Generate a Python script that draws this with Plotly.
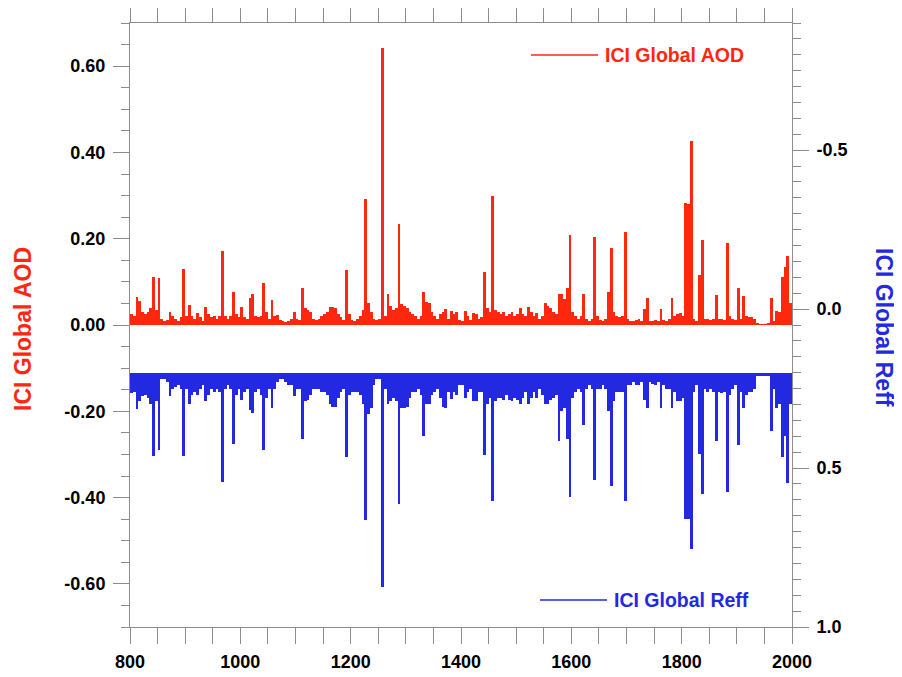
import plotly.graph_objects as go

# 5-year bins starting at 800 (bin start years)
bin_start = list(range(800, 2000, 5))

# ICI Global AOD, maximum in each 5-year bin
aod = [
    0.025, 0.020, 0.064, 0.055, 0.030, 0.025, 0.030, 0.040, 0.112, 0.035,   # 800-845
    0.108, 0.015, 0.010, 0.012, 0.030, 0.020, 0.014, 0.010, 0.018, 0.130,   # 850-895
    0.020, 0.046, 0.020, 0.015, 0.028, 0.018, 0.010, 0.042, 0.025, 0.018,   # 900-945
    0.020, 0.015, 0.022, 0.172, 0.022, 0.015, 0.020, 0.077, 0.026, 0.018,   # 950-995
    0.041, 0.018, 0.015, 0.062, 0.073, 0.020, 0.018, 0.022, 0.098, 0.030,   # 1000-1045
    0.015, 0.059, 0.020, 0.023, 0.012, 0.010, 0.008, 0.010, 0.015, 0.029,   # 1050-1095
    0.015, 0.012, 0.085, 0.040, 0.035, 0.030, 0.015, 0.012, 0.015, 0.020,   # 1100-1145
    0.025, 0.030, 0.042, 0.042, 0.040, 0.025, 0.018, 0.012, 0.127, 0.025,   # 1150-1195
    0.012, 0.010, 0.015, 0.020, 0.035, 0.292, 0.050, 0.030, 0.015, 0.012,   # 1200-1245
    0.015, 0.642, 0.020, 0.071, 0.045, 0.035, 0.040, 0.235, 0.049, 0.045,   # 1250-1295
    0.040, 0.030, 0.025, 0.020, 0.015, 0.020, 0.076, 0.054, 0.050, 0.030,   # 1300-1345
    0.020, 0.015, 0.025, 0.030, 0.037, 0.015, 0.033, 0.025, 0.030, 0.012,   # 1350-1395
    0.010, 0.033, 0.020, 0.012, 0.028, 0.025, 0.015, 0.018, 0.122, 0.040,   # 1400-1445
    0.030, 0.299, 0.035, 0.030, 0.025, 0.030, 0.020, 0.025, 0.030, 0.020,   # 1450-1495
    0.025, 0.039, 0.025, 0.020, 0.042, 0.030, 0.020, 0.028, 0.015, 0.020,   # 1500-1545
    0.050, 0.045, 0.040, 0.030, 0.025, 0.073, 0.073, 0.060, 0.085, 0.208,   # 1550-1595
    0.030, 0.020, 0.015, 0.020, 0.071, 0.015, 0.010, 0.015, 0.203, 0.020,   # 1600-1645
    0.012, 0.010, 0.015, 0.077, 0.178, 0.030, 0.020, 0.018, 0.020, 0.216,   # 1650-1695
    0.015, 0.010, 0.010, 0.012, 0.015, 0.010, 0.036, 0.063, 0.010, 0.010,   # 1700-1745
    0.012, 0.010, 0.036, 0.012, 0.010, 0.015, 0.063, 0.020, 0.026, 0.028,   # 1750-1795
    0.020, 0.282, 0.280, 0.426, 0.015, 0.010, 0.115, 0.198, 0.015, 0.015,   # 1800-1845
    0.012, 0.015, 0.070, 0.015, 0.015, 0.012, 0.190, 0.020, 0.015, 0.012,   # 1850-1895
    0.085, 0.015, 0.067, 0.020, 0.018, 0.018, 0.015, 0.003, 0.002, 0.002,   # 1900-1945
    0.002, 0.003, 0.062, 0.010, 0.033, 0.030, 0.112, 0.135, 0.160, 0.050,   # 1950-1995
]

# ICI Global Reff, maximum in each 5-year bin (right axis, reversed)
reff = [
    0.263, 0.260, 0.315, 0.290, 0.274, 0.270, 0.280, 0.300, 0.462, 0.290,   # 800-845
    0.442, 0.220, 0.220, 0.230, 0.274, 0.250, 0.246, 0.240, 0.250, 0.462,   # 850-895
    0.250, 0.300, 0.270, 0.260, 0.270, 0.250, 0.240, 0.290, 0.270, 0.250,   # 900-945
    0.260, 0.250, 0.260, 0.545, 0.250, 0.240, 0.250, 0.424, 0.270, 0.250,   # 950-995
    0.285, 0.260, 0.250, 0.318, 0.327, 0.260, 0.250, 0.270, 0.442, 0.280,   # 1000-1045
    0.250, 0.310, 0.250, 0.230, 0.220, 0.220, 0.230, 0.240, 0.240, 0.274,   # 1050-1095
    0.250, 0.250, 0.410, 0.290, 0.285, 0.270, 0.250, 0.250, 0.250, 0.260,   # 1100-1145
    0.260, 0.270, 0.300, 0.307, 0.307, 0.280, 0.260, 0.250, 0.465, 0.270,   # 1150-1195
    0.260, 0.260, 0.260, 0.270, 0.300, 0.662, 0.330, 0.310, 0.240, 0.220,   # 1200-1245
    0.220, 0.875, 0.250, 0.300, 0.290, 0.280, 0.290, 0.612, 0.310, 0.310,   # 1250-1295
    0.307, 0.280, 0.260, 0.260, 0.250, 0.270, 0.400, 0.300, 0.300, 0.270,   # 1300-1345
    0.260, 0.250, 0.280, 0.307, 0.310, 0.260, 0.283, 0.260, 0.270, 0.240,   # 1350-1395
    0.240, 0.280, 0.260, 0.250, 0.290, 0.290, 0.260, 0.260, 0.458, 0.300,   # 1400-1445
    0.280, 0.603, 0.290, 0.280, 0.280, 0.285, 0.270, 0.285, 0.290, 0.280,   # 1450-1495
    0.285, 0.300, 0.280, 0.260, 0.300, 0.280, 0.260, 0.280, 0.250, 0.270,   # 1500-1545
    0.300, 0.300, 0.285, 0.280, 0.270, 0.415, 0.320, 0.310, 0.410, 0.590,   # 1550-1595
    0.280, 0.260, 0.250, 0.260, 0.365, 0.250, 0.240, 0.250, 0.538, 0.250,   # 1600-1645
    0.250, 0.240, 0.250, 0.320, 0.556, 0.290, 0.260, 0.260, 0.260, 0.604,   # 1650-1695
    0.240, 0.240, 0.230, 0.240, 0.240, 0.230, 0.285, 0.310, 0.230, 0.235,   # 1700-1745
    0.240, 0.230, 0.310, 0.240, 0.250, 0.250, 0.310, 0.260, 0.290, 0.290,   # 1750-1795
    0.280, 0.660, 0.660, 0.755, 0.260, 0.240, 0.456, 0.583, 0.250, 0.260,   # 1800-1845
    0.250, 0.260, 0.415, 0.260, 0.265, 0.260, 0.575, 0.270, 0.250, 0.240,   # 1850-1895
    0.426, 0.260, 0.310, 0.270, 0.260, 0.260, 0.250, 0.210, 0.210, 0.210,   # 1900-1945
    0.210, 0.210, 0.382, 0.250, 0.310, 0.300, 0.465, 0.400, 0.547, 0.300,   # 1950-1995
]

REFF_BASE = 0.2
aod_ticks = [-0.6, -0.4, -0.2, 0.0, 0.2, 0.4, 0.6]
reff_ticks = [-0.5, 0.0, 0.5, 1.0]
year_ticks = [800, 1000, 1200, 1400, 1600, 1800, 2000]

RED = "rgb(255,40,15)"
BLUE = "rgb(35,40,225)"
AXC = "#8c8c8c"
FONT = "Liberation Sans"

bin_width = 5
centers = [b + bin_width / 2 for b in bin_start]
reff_height = [r - REFF_BASE for r in reff]

fig = go.Figure()
fig.add_trace(go.Bar(
    x=centers, y=aod, width=bin_width, marker=dict(color=RED, line=dict(width=0)),
    yaxis="y", showlegend=False, name="ICI Global AOD"))
fig.add_trace(go.Bar(
    x=centers, y=reff_height, base=REFF_BASE, width=bin_width,
    marker=dict(color=BLUE, line=dict(width=0)),
    yaxis="y2", showlegend=False, name="ICI Global Reff"))

tickfont = dict(family=FONT, size=18, color="black", weight="bold")

# target plot-area position on screen (pixels)
SL, SR, ST, SB = 130, 792, 23, 627
OFF = 8  # page body offset
W, H = 902, 677

fig.update_layout(
    width=W, height=H,
    margin=dict(l=SL - OFF, r=W - (SR - OFF), t=ST - OFF, b=H - (SB - OFF), autoexpand=False),
    paper_bgcolor="white", plot_bgcolor="white",
    barmode="overlay", bargap=0,
    showlegend=False,
    xaxis=dict(
        range=[800, 2000], tickvals=year_ticks, ticktext=[str(v) for v in year_ticks],
        ticks="outside", ticklen=16, tickwidth=1, tickcolor=AXC, automargin=False,
        showline=True, linecolor=AXC, linewidth=1, mirror="allticks",
        showgrid=False, zeroline=False, tickfont=tickfont, ticklabelstandoff=2,
        minor=dict(dtick=50, tick0=800, ticks="outside", ticklen=8, tickcolor=AXC, showgrid=False),
    ),
    yaxis=dict(
        range=[-0.7, 0.7], tickvals=aod_ticks, ticktext=[f"{v:.2f}" for v in aod_ticks],
        ticks="outside", ticklen=16, tickwidth=1, tickcolor=AXC, automargin=False,
        showline=True, linecolor=AXC, linewidth=1,
        showgrid=False, zeroline=False, tickfont=tickfont, ticklabelstandoff=4,
        minor=dict(dtick=0.05, tick0=0, ticks="outside", ticklen=8, tickcolor=AXC, showgrid=False),
    ),
    yaxis2=dict(
        overlaying="y", side="right",
        range=[1.0, -0.9], tickvals=reff_ticks, ticktext=[f"{v:.1f}" for v in reff_ticks],
        ticks="outside", ticklen=16, tickwidth=1, tickcolor=AXC, automargin=False,
        showline=True, linecolor=AXC, linewidth=1,
        showgrid=False, zeroline=False, tickfont=tickfont, ticklabelstandoff=4,
        minor=dict(dtick=0.05, tick0=0, ticks="outside", ticklen=8, tickcolor=AXC, showgrid=False),
    ),
)


def px(xs):
    return (xs - SL) / (SR - SL)


def py(ys):
    return (SB - ys) / (SB - ST)


# axis titles
fig.add_annotation(x=px(23), y=py(329), xref="paper", yref="paper", text="ICI Global AOD",
                   textangle=-90, showarrow=False, xanchor="center", yanchor="middle",
                   font=dict(family=FONT, size=23, color=RED, weight="bold"))
fig.add_annotation(x=px(884), y=py(327), xref="paper", yref="paper", text="ICI Global Reff",
                   textangle=90, showarrow=False, xanchor="center", yanchor="middle",
                   font=dict(family=FONT, size=23, color=BLUE, weight="bold"))

# legend entries (line + label)
fig.add_shape(type="line", xref="paper", yref="paper",
              x0=px(531), x1=px(598), y0=py(55), y1=py(55), line=dict(color=RED, width=1.5))
fig.add_annotation(x=px(603), y=py(55), xref="paper", yref="paper", xanchor="left", yanchor="middle",
                   text="ICI Global AOD", showarrow=False,
                   font=dict(family=FONT, size=19.5, color=RED, weight="bold"))
fig.add_shape(type="line", xref="paper", yref="paper",
              x0=px(540), x1=px(607), y0=py(600), y1=py(600), line=dict(color=BLUE, width=1.5))
fig.add_annotation(x=px(612), y=py(600), xref="paper", yref="paper", xanchor="left", yanchor="middle",
                   text="ICI Global Reff", showarrow=False,
                   font=dict(family=FONT, size=19.5, color=BLUE, weight="bold"))

fig.write_html("out.html")
